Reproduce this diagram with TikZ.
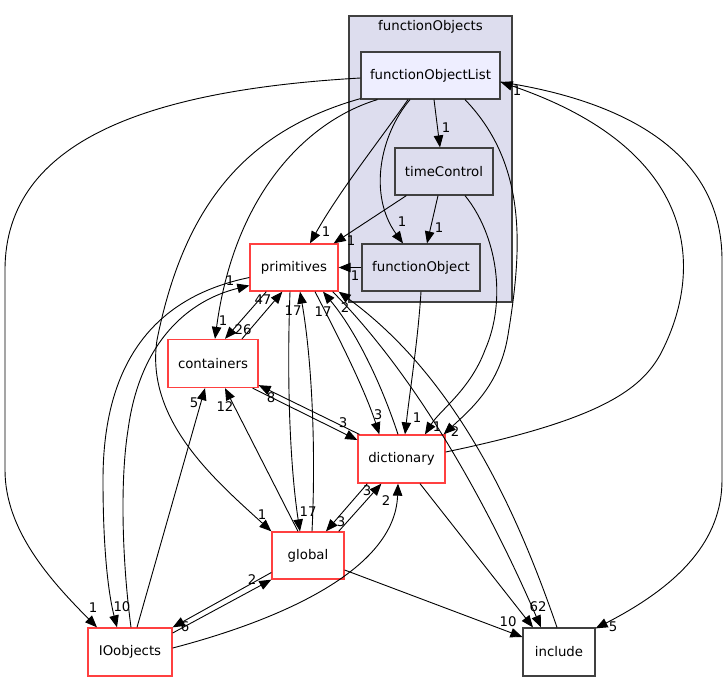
\documentclass[tikz,border=0pt]{standalone}
\usepackage{fontspec}
\setmainfont{DejaVu Sans}
\usetikzlibrary{arrows.meta,calc}
\definecolor{clfill}{HTML}{DDDDEE}
\definecolor{selfill}{HTML}{EEEEFF}
\definecolor{bord}{HTML}{404040}
\definecolor{redb}{HTML}{FF4040}
\tikzset{
 box/.style={draw=bord, line width=1.2pt, inner sep=0pt, font=\fontsize{13.3}{15}\selectfont, text=black},
 redbox/.style={box, draw=redb, line width=1.3pt, fill=white},
 lbl/.style={inner sep=0pt, font=\fontsize{13.3}{15}\selectfont},
 dep/.style={draw=black, line width=0.9pt, -{Triangle[length=12pt,width=9.5pt]}},
}
\begin{document}
\begin{tikzpicture}[x=1pt,y=-1pt]
\useasboundingbox (0,0) rectangle (728,681);
% cluster
\node[box, fill=clfill, minimum width=163pt, minimum height=286pt] (cl) at (430.5,159) {};
\node[lbl] (cltitle) at (430.5,27) {functionObjects};
% nodes
\node[box, fill=selfill, minimum width=139pt, minimum height=47pt] (fol) at (430.5,75.5) {functionObjectList};
\node[box, fill=clfill, minimum width=98pt, minimum height=47pt] (tc) at (444,171.5) {timeControl};
\node[box, fill=clfill, minimum width=118pt, minimum height=47pt] (fo) at (421,267.5) {functionObject};
\node[redbox, minimum width=88pt, minimum height=47pt] (prim) at (294,267.5) {primitives};
\node[redbox, minimum width=90pt, minimum height=48pt] (cont) at (213,363.5) {containers};
\node[redbox, minimum width=87pt, minimum height=48pt] (dict) at (401.5,459) {dictionary};
\node[redbox, minimum width=72pt, minimum height=47pt] (glob) at (308,555.5) {global};
\node[redbox, minimum width=84pt, minimum height=48pt] (ioo) at (130,652) {IOobjects};
\node[box, fill=white, minimum width=72pt, minimum height=48pt] (inc) at (559,652) {include};

% edges
\draw[dep] ($(fol.west)+(0,2.5)$) .. controls (150,90) and (5,140) .. (5,270) -- (5,470) .. controls (5,530) and (50,580) .. ($(ioo.north)+(-33,0)$);
\node[lbl] (l1) at (93,608) {1};
\draw[dep] ($(fol.south west)+(0,-1)$) .. controls (250,130) and (185,200) .. (157,340) .. controls (145,420) and (215,480) .. (glob.north west);
\node[lbl] (l2) at (262,515) {1};
\draw[dep] ($(fol.south west)+(17,0)$) .. controls (310,120) and (235,190) .. ($(cont.north)+(2,0)$);
\node[lbl] (l3) at (223,321) {1};
\draw[dep] ($(fol.south)+(-22.5,0)$) .. controls (380,140) and (340,190) .. ($(prim.north)+(16,0)$);
\node[lbl] (l4) at (326,232) {1};
\draw[dep] ($(fol.south)+(-20.5,0)$) .. controls (380,135) and (368,195) .. ($(fo.north)+(-18,0)$);
\node[lbl] (l5) at (402,222) {1};
\draw[dep] ($(fol.south)+(3.5,0)$) -- ($(tc.north)+(-4,0)$);
\node[lbl] (l6) at (446,128) {1};
\draw[dep] ($(fol.south)+(34.5,0)$) .. controls (528,165) and (522,250) .. (508,335) .. controls (500,385) and (470,410) .. ($(dict.north east)+(-2,0)$);
\node[lbl] (l7) at (455,432) {2};
\draw[dep] ($(tc.south)+(21,0)$) .. controls (497,235) and (507,300) .. (485,350) .. controls (470,390) and (440,410) .. ($(dict.north)+(23.5,0)$);
\node[lbl] (l8) at (437,427) {1};
\draw[dep] ($(tc.south west)+(12,0)$) -- ($(prim.north east)+(-5,0)$);
\node[lbl] (l9) at (351,241) {1};
\draw[dep] ($(tc.south)+(-6,0)$) -- ($(fo.north)+(6,0)$);
\node[lbl] (l10) at (439,228) {1};
\draw[dep] (fo.west) -- (prim.east);
\node[lbl] (l11) at (355,276) {1};
\draw[dep] (fo.south) .. controls (418,340) and (410,390) .. ($(dict.north)+(3.5,0)$);
\node[lbl] (l12) at (417,418) {1};
\draw[dep] ($(dict.east)+(0,-7)$) .. controls (600,420) and (640,390) .. (660,355) .. controls (705,270) and (700,150) .. ($(fol.east)+(0,6.5)$);
\node[lbl] (l13) at (517,91) {1};
\draw[dep] ($(fol.east)+(0,6.5)$) .. controls (620,100) and (722,150) .. (722,260) -- (722,480) .. controls (722,540) and (680,585) .. ($(inc.north east)+(0,1)$);
\node[lbl] (l14) at (613,627) {5};
\draw[dep] ($(prim.south west)+(17,0)$) -- ($(cont.north)+(12,0)$);
\node[lbl] (l15) at (243,330) {26};
\draw[dep] ($(cont.north)+(29,0)$) -- ($(prim.south west)+(33,0)$);
\node[lbl] (l16) at (263,300) {47};
\draw[dep] ($(prim.south)+(-4,0)$) .. controls (286,400) and (292,480) .. ($(glob.north)+(-8,0)$);
\node[lbl] (l17) at (308,512) {17};
\draw[dep] ($(glob.north)+(4,0)$) .. controls (316,450) and (312,360) .. ($(prim.south)+(6,0)$);
\node[lbl] (l18) at (293,311) {17};
\draw[dep] ($(prim.south)+(21,0)$) .. controls (340,340) and (365,390) .. ($(dict.north west)+(22,0)$);
\node[lbl] (l19) at (378,415) {3};
\draw[dep] ($(dict.north)+(-3.5,0)$) .. controls (380,380) and (355,330) .. ($(prim.south)+(29,0)$);
\node[lbl] (l20) at (323,312) {17};
\draw[dep] ($(inc.north)+(-2,0)$) .. controls (520,520) and (460,380) .. (prim.south east);
\node[lbl] (l21) at (345,308) {2};
\draw[dep] ($(prim.south east)+(-6,0)$) .. controls (420,380) and (490,510) .. ($(inc.north)+(-18,0)$);
\node[lbl] (l22) at (538,607) {62};
\draw[dep] ($(dict.south)+(18.5,0)$) -- ($(inc.north)+(-26,0)$);
\draw[dep] ($(glob.east)+(0,14.5)$) -- ($(inc.west)+(0,-15)$);
\node[lbl] (l24) at (508,622) {10};
\draw[dep] ($(dict.south west)+(10,0)$) -- ($(glob.north)+(18,0)$);
\node[lbl] (l25) at (341,522) {3};
\draw[dep] ($(glob.north east)+(-6,0)$) -- ($(dict.south west)+(24,0)$);
\node[lbl] (l26) at (367,491) {3};
\draw[dep] ($(ioo.east)+(0,-4)$) .. controls (280,620) and (395,570) .. ($(dict.south)+(-3.5,0)$);
\node[lbl] (l27) at (386,501) {2};
\draw[dep] ($(glob.west)+(0,17)$) -- (ioo.north east);
\node[lbl] (l28) at (185,627) {6};
\draw[dep] ($(ioo.east)+(0,-19)$) -- (glob.south west);
\node[lbl] (l29) at (252,580) {2};
\draw[dep] ($(glob.north)+(-10,0)$) -- ($(cont.south)+(12,0)$);
\node[lbl] (l30) at (225,407) {12};
\draw[dep] ($(ioo.north)+(7,0)$) -- ($(cont.south)+(-8,0)$);
\node[lbl] (l31) at (194,403) {5};
\draw[dep] ($(cont.south east)+(-6,0)$) -- ($(dict.west)+(0,-19)$);
\node[lbl] (l32) at (343,423) {3};
\draw[dep] ($(dict.north west)+(2,0)$) -- ($(cont.south east)+(0,-3)$);
\node[lbl] (l33) at (271,398) {8};
\draw[dep] ($(prim.west)+(0,10)$) .. controls (140,300) and (103,380) .. (103,480) .. controls (103,560) and (110,600) .. ($(ioo.north)+(-13,0)$);
\node[lbl] (l34) at (122,607) {10};
\draw[dep] ($(ioo.north)+(1,0)$) .. controls (122,560) and (120,480) .. (128,430) .. controls (140,340) and (190,300) .. ($(prim.west)+(0,18)$);
\node[lbl] (l35) at (230,281) {1};
\end{tikzpicture}
\end{document}
